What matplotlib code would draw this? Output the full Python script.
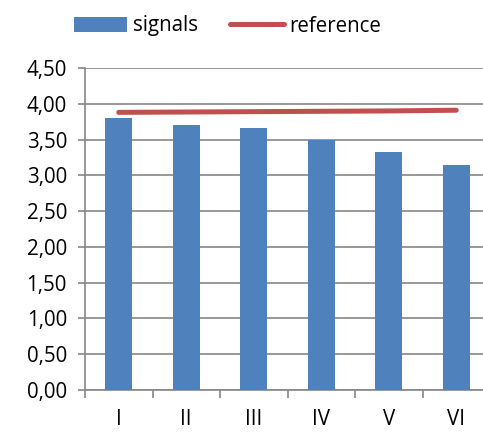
import matplotlib
matplotlib.use("Agg")
import matplotlib.pyplot as plt
import numpy as np

categories = ["I", "II", "III", "IV", "V", "VI"]
signals = [3.80, 3.70, 3.66, 3.50, 3.33, 3.14]
reference = [3.88, 3.885, 3.89, 3.895, 3.90, 3.91]
yticks = [0.0, 0.5, 1.0, 1.5, 2.0, 2.5, 3.0, 3.5, 4.0, 4.5]

plt.rcParams['font.family'] = ['Open Sans', 'DejaVu Sans']
W, H = 483, 432
fig = plt.figure(figsize=(W / 100, H / 100), dpi=100)
# plot area: left at x=85, runs slightly past right edge; y 0 at 390, 4.5 at 68
ax = fig.add_axes([85 / W, (H - 390) / H, 405 / W, 322 / H])

x = np.arange(len(categories))
grey = "#868686"
bars = ax.bar(x, signals, width=0.4, color="#4f81bd", zorder=3, label="signals")
line, = ax.plot(x, reference, color="#c0504d", lw=3.6, solid_capstyle="round",
                zorder=4, label="reference")

ax.set_xlim(-0.5, len(categories) - 0.5)
ax.set_ylim(0, 4.5)
ax.set_yticks(yticks)
ax.set_yticklabels([f"{v:.2f}".replace(".", ",") for v in yticks])
ax.yaxis.grid(True, color=grey, lw=1.2, zorder=0)

ax.set_xticks(x)
ax.set_xticklabels(categories)
ax.set_xticks(np.arange(-0.5, len(categories)), minor=True)
ax.tick_params(axis="x", which="major", length=0, pad=14, labelsize=14.8)
ax.tick_params(axis="x", which="minor", length=6, width=1.2, color=grey)
ax.tick_params(axis="y", length=5, width=1.2, color=grey, pad=8,
               labelsize=14.8)

for s in ["top", "right"]:
    ax.spines[s].set_visible(False)
for s in ["left", "bottom"]:
    ax.spines[s].set_color(grey)
    ax.spines[s].set_linewidth(1.2)

fig.legend(handles=[bars, line], loc="center left",
           bbox_to_anchor=(74 / W, 1 - 26 / H), ncol=2,
           frameon=False, fontsize=14.8, handlelength=2.6,
           handletextpad=0.25, columnspacing=1.6, borderaxespad=0,
           borderpad=0)

fig.savefig("out.png", dpi=100)
